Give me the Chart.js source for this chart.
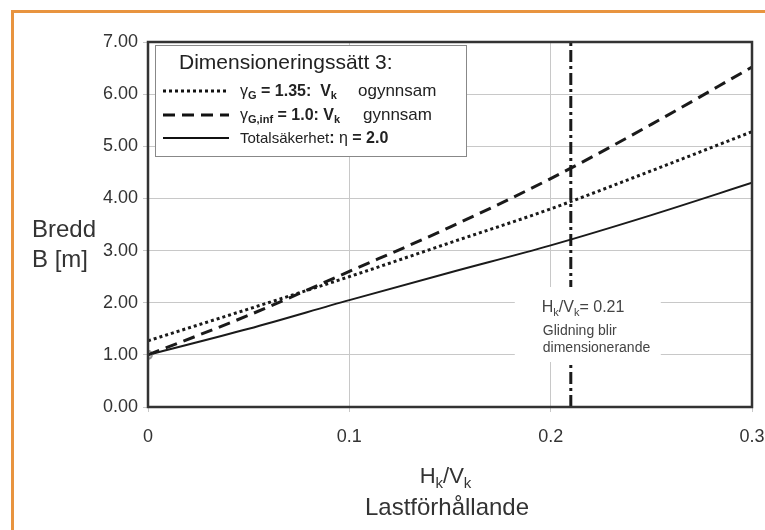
<!DOCTYPE html>
<html>
<head>
<meta charset="utf-8">
<script src="https://cdn.jsdelivr.net/npm/chart.js@4/dist/chart.umd.min.js"></script>
<style>
  html, body { margin: 0; padding: 0; background: #fff; overflow: hidden; }
  #wrap { position: relative; width: 765px; height: 530px; overflow: hidden; }
  #frame { position: absolute; left: 11px; top: 10px; width: 800px; height: 600px;
           border-left: 3px solid #e8943f; border-top: 3px solid #e8943f; }
  canvas { position: absolute; left: 0; top: 0; }
</style>
</head>
<body>
<div id="wrap">
  <div id="frame"></div>
  <canvas id="chart" width="800" height="530"></canvas>
</div>
<script>
// load ratio Hk/Vk
const xValues = [0, 0.05, 0.1, 0.15, 0.2, 0.25, 0.3];
// width B [m] for each curve
const gammaG135 = [1.27, 1.88, 2.5, 3.15, 3.8, 4.53, 5.28];   // dotted
const gammaGinf = [1.0, 1.76, 2.6, 3.45, 4.38, 5.42, 6.52];   // dashed
const totalSafety = [1.0, 1.5, 2.05, 2.58, 3.1, 3.68, 4.3];   // solid
const slidingLimit = 0.21;
const xTickLabels = ['0', '0.1', '0.2', '0.3'];
const yTickLabels = ['0.00', '1.00', '2.00', '3.00', '4.00', '5.00', '6.00', '7.00'];

const FONT = '"Liberation Sans", Arial, sans-serif';
Chart.defaults.font.family = FONT;

function pts(ys) {
  return xValues.map((x, i) => ({ x: x, y: ys[i] }));
}

// draws a run of text pieces [text, font, dy]
function drawRuns(ctx, x, y, runs) {
  runs.forEach(r => {
    ctx.font = r[1];
    ctx.fillText(r[0], x, y + (r[2] || 0));
    x += ctx.measureText(r[0]).width;
  });
  return x;
}

const extras = {
  id: 'extras',
  afterDatasetsDraw(chart) {
    const ctx = chart.ctx;
    const a = chart.chartArea;
    const xs = chart.scales.x;
    ctx.save();

    // frame round the plot
    ctx.strokeStyle = '#333';
    ctx.lineWidth = 2.5;
    ctx.strokeRect(a.left, a.top, a.right - a.left, a.bottom - a.top);

    // white box with the sliding note
    const lx = xs.getPixelForValue(slidingLimit);
    ctx.fillStyle = '#fff';
    ctx.fillRect(lx - 56, 287, 146, 75);
    ctx.fillStyle = '#444';
    ctx.textBaseline = 'alphabetic';
    let px = lx - 29;
    px = drawRuns(ctx, px, 312, [
      ['H', '16px ' + FONT], ['k', '11px ' + FONT, 4],
      ['/V', '16px ' + FONT], ['k', '11px ' + FONT, 4],
      ['= 0.21', '16px ' + FONT]
    ]);
    ctx.font = '14px ' + FONT;
    ctx.fillText('Glidning blir', lx - 28, 335);
    ctx.fillText('dimensionerande', lx - 28, 352);

    // legend box
    ctx.fillStyle = '#fff';
    ctx.fillRect(155, 45, 311, 111);
    ctx.strokeStyle = '#888';
    ctx.lineWidth = 1;
    ctx.strokeRect(155.5, 45.5, 311, 111);
    ctx.fillStyle = '#222';
    ctx.font = '21px ' + FONT;
    ctx.fillText('Dimensioneringssätt 3:', 179, 69);

    const rows = [
      { y: 91, ds: chart.data.datasets[0] },
      { y: 115, ds: chart.data.datasets[1] },
      { y: 138, ds: chart.data.datasets[2] }
    ];
    rows.forEach(r => {
      ctx.save();
      ctx.strokeStyle = '#111';
      ctx.lineWidth = r.ds.borderWidth;
      ctx.setLineDash(r.ds.borderDash || []);
      ctx.beginPath();
      ctx.moveTo(163, r.y);
      ctx.lineTo(229, r.y);
      ctx.stroke();
      ctx.restore();
    });

    const n = '16px ' + FONT, b = 'bold 16px ' + FONT;
    const sn = '11px ' + FONT, sb = 'bold 11px ' + FONT;
    drawRuns(ctx, 240, 96, [['γ', n], ['G', sb, 3], [' = 1.35:  V', b], ['k', sb, 3]]);
    ctx.font = '17px ' + FONT;
    ctx.fillText('ogynnsam', 358, 96);
    drawRuns(ctx, 240, 120, [['γ', n], ['G,inf', sb, 3], [' = 1.0: V', b], ['k', sb, 3]]);
    ctx.font = '17px ' + FONT;
    ctx.fillText('gynnsam', 363, 120);
    drawRuns(ctx, 240, 143, [['Totalsäkerhet', '15px ' + FONT], [': ', b], ['η', n], [' = 2.0', b]]);

    // axis titles
    ctx.fillStyle = '#333';
    ctx.font = '24px ' + FONT;
    ctx.fillText('Bredd', 32, 237);
    ctx.fillText('B [m]', 32, 267);

    const cx = (a.left + a.right) / 2 - 3;
    ctx.font = '22px ' + FONT;
    const w = ctx.measureText('H/V').width + 2 * 9;
    drawRuns(ctx, cx - w / 2, 483, [
      ['H', '22px ' + FONT], ['k', '15px ' + FONT, 5],
      ['/V', '22px ' + FONT], ['k', '15px ' + FONT, 5]
    ]);
    ctx.font = '24px ' + FONT;
    ctx.textAlign = 'center';
    ctx.fillText('Lastförhållande', cx, 515);
    ctx.restore();
  }
};

new Chart(document.getElementById('chart'), {
  type: 'scatter',
  data: {
    datasets: [
      {
        label: 'γG = 1.35: Vk ogynnsam',
        data: pts(gammaG135),
        showLine: true,
        borderColor: '#1a1a1a',
        borderWidth: 3,
        borderDash: [3, 3],
        pointRadius: 0,
        cubicInterpolationMode: 'monotone'
      },
      {
        label: 'γG,inf = 1.0: Vk gynnsam',
        data: pts(gammaGinf),
        showLine: true,
        borderColor: '#1a1a1a',
        borderWidth: 3,
        borderDash: [12, 7],
        pointRadius: 0,
        cubicInterpolationMode: 'monotone'
      },
      {
        label: 'Totalsäkerhet: η = 2.0',
        data: pts(totalSafety),
        showLine: true,
        borderColor: '#1a1a1a',
        borderWidth: 2,
        pointRadius: ctx => ctx.dataIndex === 0 ? 4 : 0,
        pointBackgroundColor: '#ddd',
        pointBorderColor: '#999',
        cubicInterpolationMode: 'monotone'
      },
      {
        label: 'Glidning',
        data: [{ x: slidingLimit, y: 0 }, { x: slidingLimit, y: 7 }],
        showLine: true,
        borderColor: '#1a1a1a',
        borderWidth: 3,
        borderDash: [12, 4, 3, 4],
        pointRadius: 0
      }
    ]
  },
  options: {
    responsive: false,
    animation: false,
    layout: { padding: { left: 0, top: 42, right: 48, bottom: 0 } },
    plugins: { legend: { display: false }, tooltip: { enabled: false } },
    scales: {
      x: {
        type: 'linear',
        min: 0,
        max: 0.3,
        afterFit: s => { s.height = 123; },
        afterBuildTicks: s => { s.ticks = xTickLabels.map((t, i) => ({ value: i * 0.1 })); },
        ticks: {
          color: '#333',
          font: { size: 18 },
          padding: 14,
          maxRotation: 0,
          callback: (v, i) => xTickLabels[i]
        },
        grid: { color: '#c8c8c8', lineWidth: 1, tickLength: 5 },
        border: { display: false }
      },
      y: {
        min: 0,
        max: 7,
        afterFit: s => { s.width = 148; },
        ticks: {
          stepSize: 1,
          color: '#333',
          font: { size: 18 },
          padding: 5,
          callback: (v, i) => yTickLabels[i]
        },
        grid: { color: '#c8c8c8', lineWidth: 1, tickLength: 5 },
        border: { display: false }
      }
    }
  },
  plugins: [extras]
});
</script>
</body>
</html>
